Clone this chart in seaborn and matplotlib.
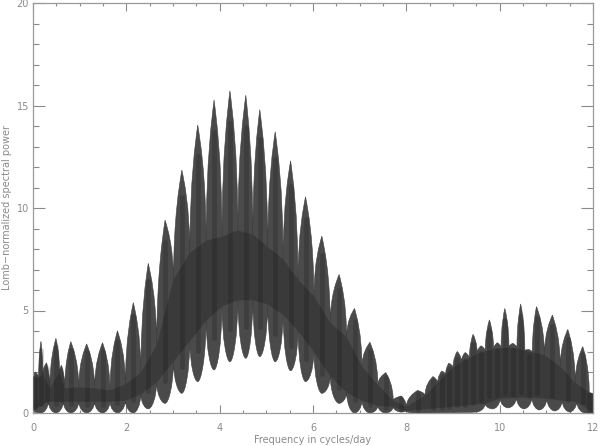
import numpy as np
import pandas as pd
import matplotlib
matplotlib.use("Agg")
import matplotlib.pyplot as plt
from matplotlib.path import Path
from matplotlib.patches import PathPatch
import seaborn as sns

# ---- data (envelope of the Lomb periodogram) ----
upper_freq = [0.00, 0.05, 0.12, 0.17, 0.21, 0.29, 0.36, 0.49, 0.57, 0.61, 0.68, 0.81, 0.98, 1.15,
              1.32, 1.49, 1.65, 1.81, 1.98, 2.15, 2.31, 2.47, 2.65, 2.83, 3.01, 3.19, 3.36, 3.53,
              3.71, 3.88, 4.05, 4.22, 4.39, 4.56, 4.71, 4.86, 5.03, 5.19, 5.36, 5.52, 5.68, 5.84,
              6.02, 6.19, 6.37, 6.56, 6.72, 6.89, 7.05, 7.22, 7.39, 7.56, 7.72, 7.89, 8.00, 8.24,
              8.40, 8.57, 8.67, 8.76, 8.84, 8.91, 9.00, 9.09, 9.18, 9.26, 9.35, 9.43, 9.52, 9.60,
              9.69, 9.78, 9.87, 9.95, 10.03, 10.11, 10.20, 10.28, 10.37, 10.45, 10.54, 10.62,
              10.70, 10.79, 10.96, 11.13, 11.30, 11.46, 11.62, 11.78, 11.92, 12.00]
upper_power = [1.8, 2.0, 1.7, 3.5, 1.9, 2.45, 1.2, 3.64, 2.0, 2.33, 1.2, 3.48, 1.25, 3.37,
               1.2, 3.43, 1.1, 4.01, 1.4, 5.38, 1.95, 7.3, 3.3, 9.41, 6.5, 11.85, 7.8, 14.05,
               8.4, 15.27, 8.6, 15.72, 8.9, 15.5, 8.7, 14.8, 8.1, 13.72, 7.5, 12.3, 6.5, 10.55,
               5.7, 8.63, 4.4, 6.76, 3.7, 5.1, 2.26, 3.45, 1.37, 1.97, 0.6, 0.83, 0.3, 1.1,
               0.85, 1.78, 1.45, 2.05, 1.85, 2.43, 2.2, 3.0, 2.5, 2.95, 2.65, 3.84, 2.9, 3.28,
               3.0, 4.54, 3.1, 3.43, 3.15, 5.1, 3.2, 3.4, 3.15, 5.32, 3.05, 3.1,
               2.95, 5.19, 2.83, 4.78, 2.26, 4.08, 1.46, 3.24, 1.0, 0.9]

lower_freq = [0.00, 0.17, 0.33, 0.49, 0.65, 0.81, 0.98, 1.15, 1.32, 1.49, 1.65, 1.81, 1.98, 2.15,
              2.31, 2.47, 2.65, 2.83, 3.01, 3.19, 3.36, 3.53, 3.71, 3.88, 4.05, 4.22, 4.39, 4.56,
              4.71, 4.86, 5.03, 5.19, 5.36, 5.52, 5.68, 5.84, 6.02, 6.19, 6.37, 6.56, 6.72, 6.89,
              7.05, 7.22, 7.39, 7.56, 7.72, 7.89, 8.00, 8.15, 9.50, 9.69, 9.85, 10.01, 10.18,
              10.36, 10.52, 10.69, 10.85, 11.01, 11.18, 11.34, 11.50, 11.65, 11.83, 12.00]
lower_power = [0.1, 0.0, 0.55, 0.0, 0.55, 0.0, 0.55, 0.0, 0.55, 0.0, 0.55, 0.0, 0.6, 0.0,
               0.9, 0.2, 1.5, 0.47, 2.5, 0.96, 3.5, 1.53, 4.5, 2.1, 5.2, 2.5, 5.5, 2.67,
               5.5, 2.75, 5.3, 2.5, 4.8, 2.06, 4.0, 1.53, 3.0, 0.96, 1.8, 0.47, 1.0, 0.0,
               0.6, 0.0, 0.35, 0.0, 0.3, 0.05, 0.1, 0.0, 0.05, 0.45, 0.2, 0.7, 0.25,
               0.75, 0.2, 0.75, 0.15, 0.7, 0.1, 0.6, 0.05, 0.55, 0.0, 0.0]

x_ticks = [0, 2, 4, 6, 8, 10, 12]
y_ticks = [0, 5, 10, 15, 20]
x_label = "Frequency in cycles/day"
y_label = "Lomb\u2212normalized spectral power"

# ---- styling ----
sns.set_theme(style="ticks")
plt.rcParams["font.family"] = ["DejaVu Sans"]
GREY = "#8a8a8a"


def envelope_segments(xs, ys, upper=True):
    """Bezier segments between consecutive key points (spindle-shaped lobes)."""
    verts, codes = [], []
    for (x0, y0), (x1, y1) in zip(zip(xs[:-1], ys[:-1]), zip(xs[1:], ys[1:])):
        dx = x1 - x0
        dy = abs(y1 - y0)

        def ctrl(px, py, sign_x, is_high):
            if upper:
                if is_high:   # pointed peak
                    return (px + sign_x * 0.30 * dx, py - 0.14 * dy)
                return (px + sign_x * 0.04 * dx, py + 0.58 * dy)  # V-shaped valley
            else:
                if is_high:   # pointed crest
                    return (px + sign_x * 0.04 * dx, py - 0.6 * dy)
                return (px + sign_x * 0.42 * dx, py)  # rounded trough
        h0 = y0 >= y1
        c1 = ctrl(x0, y0, +1, h0)
        c2 = ctrl(x1, y1, -1, not h0)
        verts += [c1, c2, (x1, y1)]
        codes += [Path.CURVE4] * 3
    return verts, codes


fig = plt.figure(figsize=(6.0, 4.46), dpi=100)
ax = fig.add_axes([33 / 600, 1 - 413 / 446, 560 / 600, 410 / 446])

uv, uc = envelope_segments(upper_freq, upper_power, upper=True)
lx = lower_freq[::-1]
ly = lower_power[::-1]
lv, lc = envelope_segments(lx, ly, upper=False)

verts = [(upper_freq[0], upper_power[0])] + uv + [(lx[0], ly[0])] + lv + [(0, 0)]
codes = [Path.MOVETO] + uc + [Path.LINETO] + lc + [Path.CLOSEPOLY]
shape = PathPatch(Path(verts, codes), facecolor="#4a4a4a", edgecolor="#404040",
                  linewidth=0.4, zorder=2)
ax.add_patch(shape)

# slightly darker core where the oscillating curve is densest
up_arr = np.array(upper_power)
is_valley = np.r_[True, (up_arr[1:-1] < up_arr[:-2]) & (up_arr[1:-1] < up_arr[2:]), True]
lo_arr = np.array(lower_power)
is_crest = np.r_[True, (lo_arr[1:-1] > lo_arr[:-2]) & (lo_arr[1:-1] > lo_arr[2:]), True]
cx = list(np.array(upper_freq)[is_valley]) + list(np.array(lower_freq)[is_crest][::-1])
cy = list(up_arr[is_valley]) + list(lo_arr[is_crest][::-1])
core = ax.fill(cx, cy, color="#151515", alpha=0.3, lw=0, zorder=3)[0]
core.set_clip_path(shape)

# soft dark streaks along the lobe centres
lobe_x = np.array(upper_freq)[~is_valley]
lobe_top = up_arr[~is_valley]
lobe_bot = np.interp(lobe_x, lower_freq, lower_power)
span = lobe_top - lobe_bot
streaks = pd.DataFrame({
    "freq": np.repeat(lobe_x, 2),
    "power": np.ravel(np.column_stack([lobe_bot + 0.12 * span, lobe_top - 0.12 * span])),
    "lobe": np.repeat(np.arange(len(lobe_x)), 2),
})
sns.lineplot(data=streaks, x="freq", y="power", units="lobe", estimator=None, sort=False,
             ax=ax, color="#101010", lw=3.5, alpha=0.2, legend=False, zorder=4)

ax.set_xlim(0, 12)
ax.set_ylim(0, 20)
ax.set_xticks(x_ticks)
ax.set_yticks(y_ticks)
ax.set_xticks(np.arange(0, 12.01, 0.5), minor=True)
ax.set_yticks(np.arange(0, 20.01, 1), minor=True)
ax.tick_params(axis="x", which="major", direction="in", length=5.5, width=0.8, color=GREY,
               top=True, bottom=True, labelsize=7, labelcolor=GREY, pad=7)
ax.tick_params(axis="x", which="minor", direction="in", length=2.5, width=0.8, color=GREY,
               top=True, bottom=True)
ax.tick_params(axis="y", which="major", direction="in", length=8.4, width=0.8, color=GREY,
               left=True, right=True, labelsize=7, labelcolor=GREY, pad=3)
ax.tick_params(axis="y", which="minor", direction="in", length=4.3, width=0.8, color=GREY,
               left=True, right=True)
for sp in ax.spines.values():
    sp.set_color("#9a9a9a")
    sp.set_linewidth(0.9)
ax.grid(False)
ax.set_xlabel(x_label, fontsize=7, color=GREY)
ax.xaxis.set_label_coords(0.5, -(435 - 413) / 410)
ax.set_ylabel(y_label, fontsize=7, color=GREY)
ax.yaxis.set_label_coords(-(33 - 12) / 560, 0.5)

fig.savefig("out.png", dpi=100, facecolor="white")
